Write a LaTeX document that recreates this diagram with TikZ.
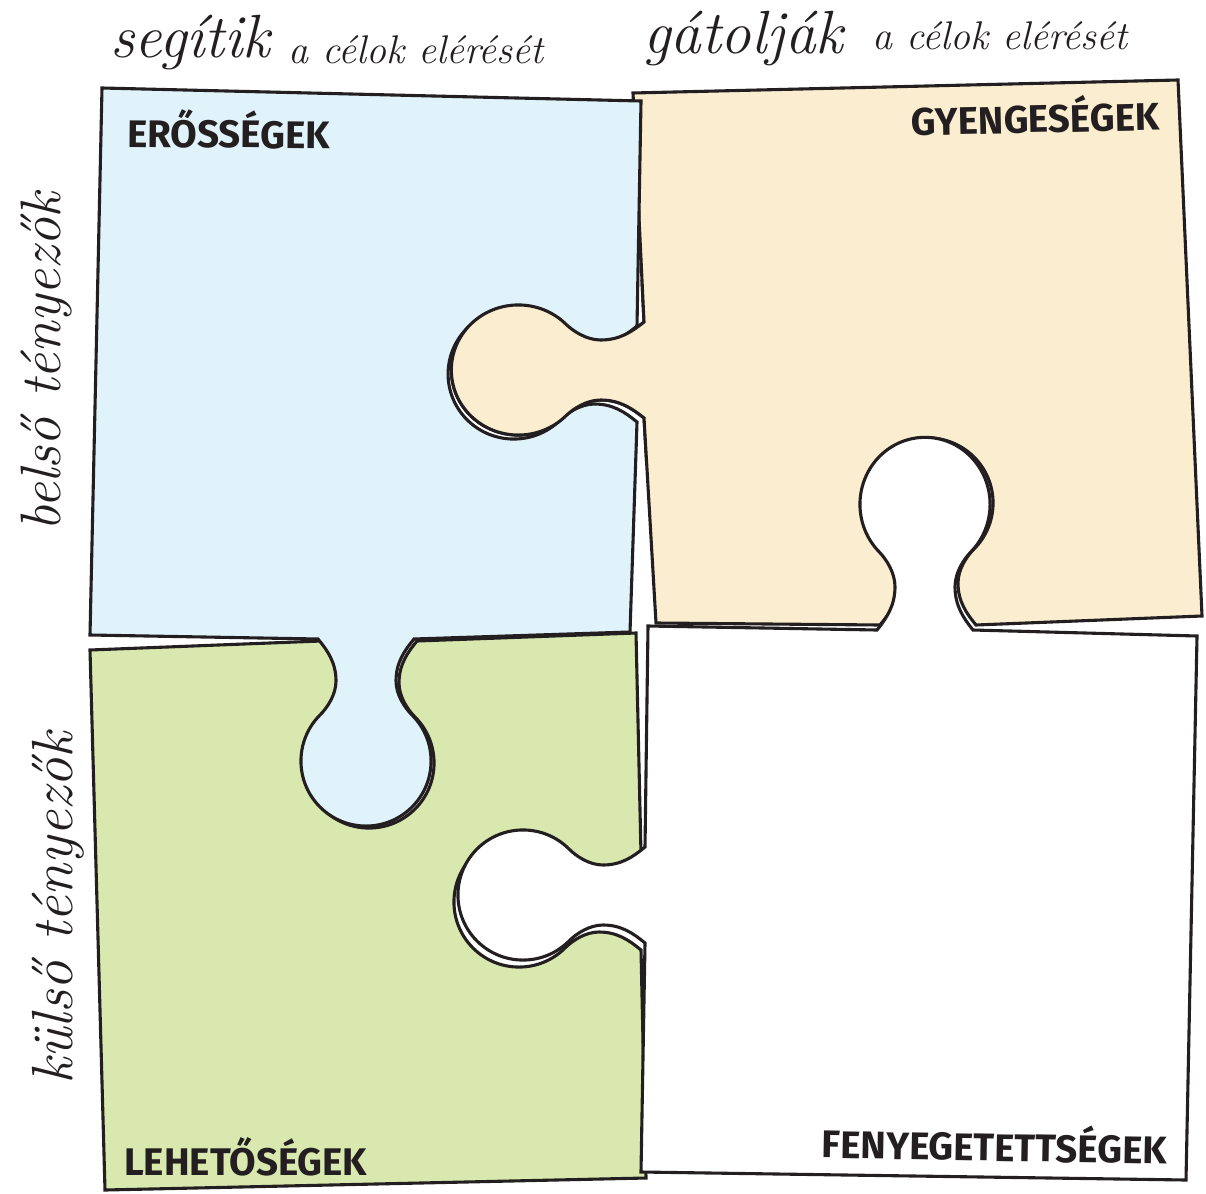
\documentclass[tikz,border=0pt]{standalone}
\usepackage{fontspec}
\newfontfamily\labelfont{Fira Sans}
\usetikzlibrary{calc}
\definecolor{blueS}{HTML}{E0F3FB}
\definecolor{yellowW}{HTML}{FBEDD0}
\definecolor{greenO}{HTML}{D8E8AF}
\definecolor{ink}{HTML}{231F20}
% puzzle knob: base (#1b), along-edge vector (#1u), protrusion vector (#1n)
\newcommand\knob[1]{%
 -- ($(#1b)+-48*(#1u)$)
 .. controls ($(#1b)+-38*(#1u)+12*(#1n)$) and ($(#1b)+-30*(#1u)+24*(#1n)$) .. ($(#1b)+-30*(#1u)+42*(#1n)$)
 .. controls ($(#1b)+-30*(#1u)+56*(#1n)$) and ($(#1b)+-39*(#1u)+69*(#1n)$) .. ($(#1b)+-46*(#1u)+76*(#1n)$)
 .. controls ($(#1b)+-71.4*(#1u)+101.4*(#1n)$) and ($(#1b)+-71.4*(#1u)+142.6*(#1n)$) .. ($(#1b)+-46*(#1u)+168*(#1n)$)
 .. controls ($(#1b)+-20.6*(#1u)+193.4*(#1n)$) and ($(#1b)+20.6*(#1u)+193.4*(#1n)$) .. ($(#1b)+46*(#1u)+168*(#1n)$)
 .. controls ($(#1b)+71.4*(#1u)+142.6*(#1n)$) and ($(#1b)+71.4*(#1u)+101.4*(#1n)$) .. ($(#1b)+46*(#1u)+76*(#1n)$)
 .. controls ($(#1b)+39*(#1u)+69*(#1n)$) and ($(#1b)+30*(#1u)+56*(#1n)$) .. ($(#1b)+30*(#1u)+42*(#1n)$)
 .. controls ($(#1b)+30*(#1u)+24*(#1n)$) and ($(#1b)+38*(#1u)+12*(#1n)$) .. ($(#1b)+48*(#1u)$)
}
\newcommand\yellowpath{(633,93) -- (1178,80) -- (1202,616) \knob{Kf} -- (656,623) \knob{Ka} -- cycle}
\newcommand\bluepath{(102,88) -- (641,101) \knob{Kb} -- (630,632) \knob{Kc} -- (90,635) -- cycle}
\newcommand\greenpath{(90,650) \knob{Kd} -- (636,633) \knob{Kh} -- (646,1178) -- (105,1190) -- cycle}
\newcommand\whitepath{(648,626) \knob{Ke} -- (1197,636) -- (1186,1180) -- (641,1172) \knob{Kg} -- cycle}
\tikzset{
  piece/.style={draw=ink, line width=3.1pt},
  script/.style={inner sep=0pt, text=ink, font=\itshape},
  lbl/.style={inner sep=0pt, text=ink, font=\labelfont\bfseries\fontsize{38.5}{42}\selectfont}
}
\begin{document}
\begin{tikzpicture}[x=1pt,y=-1pt]
\useasboundingbox (0,0) rectangle (1206,1193);
% knob frames
\coordinate (Kab) at (644,370); \coordinate (Kau) at (0,-1); \coordinate (Kan) at (-1.03,0);
\coordinate (Kbb) at (637,374); \coordinate (Kbu) at (0,1);  \coordinate (Kbn) at (-1.01,0);
\coordinate (Kcb) at (366,639); \coordinate (Kcu) at (-1,0); \coordinate (Kcn) at (0,1);
\coordinate (Kdb) at (369,641); \coordinate (Kdu) at (1,0);  \coordinate (Kdn) at (0,1);
\coordinate (Keb) at (925,630); \coordinate (Keu) at (1,0);  \coordinate (Ken) at (0,-1.03);
\coordinate (Kfb) at (928,625); \coordinate (Kfu) at (-1,0); \coordinate (Kfn) at (0,-1);
\coordinate (Kgb) at (645,895); \coordinate (Kgu) at (0,-1); \coordinate (Kgn) at (-1,0);
\coordinate (Khb) at (641,902); \coordinate (Khu) at (0,1);  \coordinate (Khn) at (-1,0);
% pieces
\filldraw[piece, fill=yellowW] \yellowpath;
\filldraw[piece, fill=greenO] \greenpath;
\filldraw[piece, fill=blueS] \bluepath;
\begin{scope}
  \clip (430,280) rectangle (700,460);
  \filldraw[piece, fill=yellowW] \yellowpath;
\end{scope}
\filldraw[piece, fill=white] \whitepath;
% headings
\node[script, anchor=base west] (seg) at (110,58) {\fontsize{61}{64}\selectfont segítik};
\node[script, anchor=base west] (seg2) at (288,64) {\fontsize{40}{44}\selectfont a célok elérését};
\node[script, anchor=base west] (gat) at (643,54) {\fontsize{61}{64}\selectfont gátolják};
\node[script, anchor=base west] (gat2) at (872,50) {\fontsize{40}{44}\selectfont a célok elérését};
\node[script, anchor=base west, rotate=90] (bel) at (60,532) {\fontsize{57}{60}\selectfont belső tényezők};
\node[script, anchor=base west, rotate=90] (kul) at (72,1085) {\fontsize{58}{60}\selectfont külső tényezők};
% labels
\node[lbl, anchor=base west, rotate=-0.5] (S) at (127,147) {ERŐSSÉGEK};
\node[lbl, anchor=base east, rotate=1.3] (W) at (1160,130) {GYENGESÉGEK};
\node[lbl, anchor=base west] (O) at (124,1175) {LEHETŐSÉGEK};
\node[lbl, anchor=base east, rotate=-1] (T) at (1167,1164) {FENYEGETETTSÉGEK};
\end{tikzpicture}
\end{document}
